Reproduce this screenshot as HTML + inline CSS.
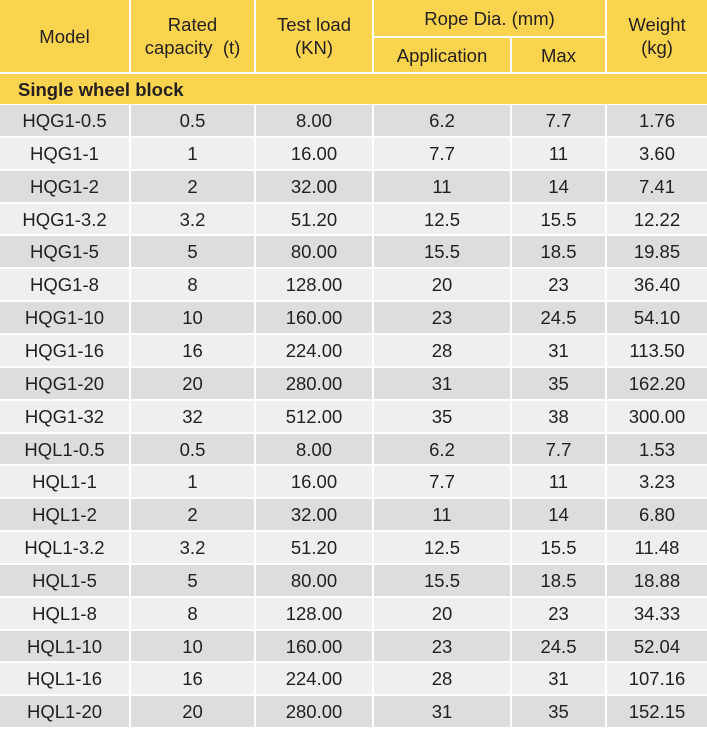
<!DOCTYPE html>
<html><head><meta charset="utf-8"><style>
body{margin:0;width:707px;height:730px;background:#fff;overflow:hidden;font-family:"Liberation Sans",sans-serif;color:#231f20}
.c{position:absolute;display:flex;align-items:center;justify-content:center;text-align:center;font-size:18.5px;line-height:23px}
.h{background:#fad44e}
.g{background:#dcdddd}
.l{background:#eeefee}
</style></head><body>
<div id="t"></div>
<script>
const models=["HQG1-0.5","HQG1-1","HQG1-2","HQG1-3.2","HQG1-5","HQG1-8","HQG1-10","HQG1-16","HQG1-20","HQG1-32","HQL1-0.5","HQL1-1","HQL1-2","HQL1-3.2","HQL1-5","HQL1-8","HQL1-10","HQL1-16","HQL1-20"];
const capacity=["0.5","1","2","3.2","5","8","10","16","20","32","0.5","1","2","3.2","5","8","10","16","20"];
const testLoad=["8.00","16.00","32.00","51.20","80.00","128.00","160.00","224.00","280.00","512.00","8.00","16.00","32.00","51.20","80.00","128.00","160.00","224.00","280.00"];
const application=["6.2","7.7","11","12.5","15.5","20","23","28","31","35","6.2","7.7","11","12.5","15.5","20","23","28","31"];
const maxDia=["7.7","11","14","15.5","18.5","23","24.5","31","35","38","7.7","11","14","15.5","18.5","23","24.5","31","35"];
const weight=["1.76","3.60","7.41","12.22","19.85","36.40","54.10","113.50","162.20","300.00","1.53","3.23","6.80","11.48","18.88","34.33","52.04","107.16","152.15"];
const t=document.getElementById('t');
const xs=[0,131,256,374,512,607,707];
function cell(x,y,w,h,cls,html,name){
  const d=document.createElement('div');
  d.className='c '+cls;
  d.style.left=x+'px';d.style.top=y+'px';d.style.width=w+'px';d.style.height=h+'px';
  d.innerHTML=html;
  
  
  t.appendChild(d);return d;
}
function colW(i){return xs[i+1]-xs[i]-(i<5?2:0);}
cell(0,0,colW(0),72,'h','Model','header-model');
cell(xs[1],0,colW(1),72,'h','Rated<br>capacity&nbsp;&nbsp;(t)','header-rated-capacity');
cell(xs[2],0,colW(2),72,'h','Test load<br>(KN)','header-test-load');
cell(xs[3],0,xs[5]-xs[3]-2,36,'h','Rope Dia. (mm)','header-rope-dia');
cell(xs[3],38,colW(3),34,'h','Application','header-application');
cell(xs[4],38,colW(4),34,'h','Max','header-max');
cell(xs[5],0,colW(5),72,'h','Weight<br>(kg)','header-weight');
const s=cell(0,74,707,30,'h','Single wheel block','section-single-wheel-block');
s.style.justifyContent='flex-start';s.style.paddingLeft='18px';s.style.boxSizing='border-box';s.style.fontWeight='bold';
const cols=[models,capacity,testLoad,application,maxDia,weight];
const names=['model','capacity','test-load','application','max','weight'];
const pitch=32.85;
for(let r=0;r<models.length;r++){
  const y=Math.round(105+r*pitch), y2=Math.round(105+(r+1)*pitch);
  for(let c=0;c<6;c++){
    cell(xs[c],y,colW(c),y2-y-2,r%2?'l':'g',cols[c][r],'cell-'+names[c]+'-'+models[r].toLowerCase().replace('.','-'));
  }
}
</script>
</body></html>
